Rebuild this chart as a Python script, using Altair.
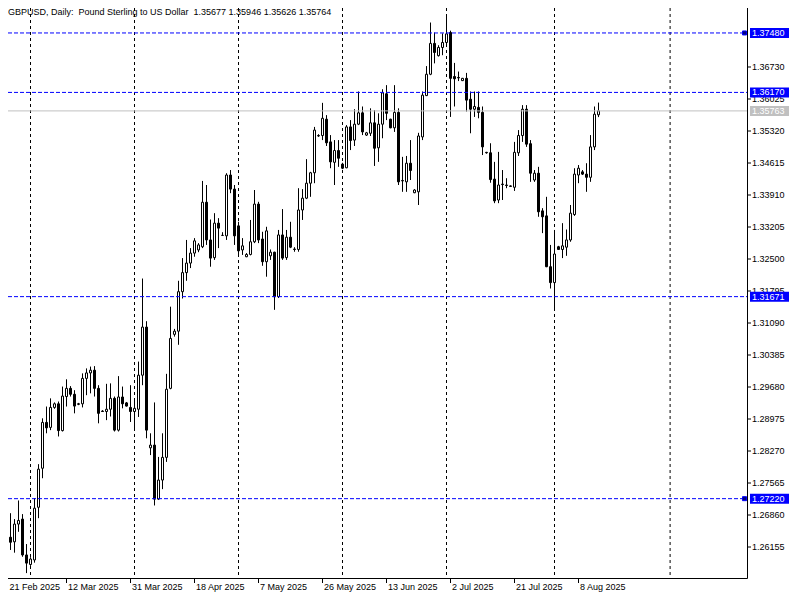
import altair as alt
import pandas as pd

# ---------------- data ----------------
symbol_text = "GBPUSD, Daily:\u00a0 Pound Sterling to US Dollar"

opens = [
    1.2664, 1.2626, 1.2637, 1.2627, 1.2666, 1.2677, 1.2598, 1.2577, 1.2587, 1.2703,
    1.2789, 1.2890, 1.2879, 1.2923, 1.2931, 1.2872, 1.2947, 1.2965, 1.2952, 1.2931,
    1.2931, 1.2987, 1.2999, 1.3005, 1.2965, 1.2915, 1.2914, 1.2919, 1.2943, 1.2873,
    1.2946, 1.2933, 1.2923, 1.2914, 1.2919, 1.2994, 1.3100, 1.2834, 1.2840, 1.2721,
    1.2763, 1.2813, 1.2965, 1.3084, 1.3091, 1.3178, 1.3220, 1.3241, 1.3263, 1.3270,
    1.3277, 1.3375, 1.3292, 1.3253, 1.3329, 1.3302, 1.3301, 1.3435, 1.3404, 1.3323,
    1.3270, 1.3255, 1.3260, 1.3288, 1.3371, 1.3294, 1.3244, 1.3257, 1.3265, 1.3167,
    1.3303, 1.3253, 1.3298, 1.3272, 1.3271, 1.3358, 1.3384, 1.3417, 1.3440, 1.3521,
    1.3522, 1.3558, 1.3508, 1.3463, 1.3489, 1.3459, 1.3451, 1.3541, 1.3512, 1.3547,
    1.3572, 1.3523, 1.3527, 1.3550, 1.3495, 1.3547, 1.3614, 1.3558, 1.3539, 1.3573,
    1.3422, 1.3420, 1.3461, 1.3396, 1.3398, 1.3519, 1.3610, 1.3657, 1.3725, 1.3698,
    1.3716, 1.3727, 1.3749, 1.3652, 1.3650, 1.3643, 1.3648, 1.3602, 1.3580, 1.3584,
    1.3573, 1.3485, 1.3484, 1.3426, 1.3380, 1.3415, 1.3413, 1.3411, 1.3408, 1.3484,
    1.3522, 1.3580, 1.3504, 1.3424, 1.3439, 1.3356, 1.3345, 1.3233, 1.3198, 1.3277,
    1.3271, 1.3276, 1.3292, 1.3348, 1.3435, 1.3442, 1.3437, 1.3430, 1.3497, 1.35677,
]
highs = [
    1.2675, 1.2642, 1.2690, 1.2677, 1.2718, 1.2688, 1.2622, 1.2593, 1.2723, 1.2798,
    1.2899, 1.2925, 1.2943, 1.2934, 1.2936, 1.2969, 1.2985, 1.2970, 1.2961, 1.2933,
    1.2998, 1.3009, 1.3013, 1.3014, 1.2972, 1.2917, 1.2975, 1.2976, 1.2947, 1.2992,
    1.2969, 1.2935, 1.2972, 1.2939, 1.3024, 1.3207, 1.3113, 1.2866, 1.2934, 1.2814,
    1.2866, 1.2997, 1.3145, 1.3096, 1.3202, 1.3252, 1.3292, 1.3274, 1.3296, 1.3285,
    1.3422, 1.3413, 1.3337, 1.3351, 1.3340, 1.3309, 1.3439, 1.3446, 1.3413, 1.3332,
    1.3296, 1.3263, 1.3336, 1.3402, 1.3376, 1.3310, 1.3321, 1.3271, 1.3266, 1.3314,
    1.3360, 1.3314, 1.3332, 1.3276, 1.3406, 1.3404, 1.3470, 1.3442, 1.3541, 1.3525,
    1.3594, 1.3567, 1.3523, 1.3512, 1.3512, 1.3462, 1.3545, 1.3556, 1.3580, 1.3619,
    1.3586, 1.3530, 1.3582, 1.3578, 1.3571, 1.3624, 1.3633, 1.3559, 1.3633, 1.3582,
    1.3475, 1.3477, 1.3512, 1.3404, 1.3528, 1.3619, 1.3675, 1.3771, 1.3749, 1.3721,
    1.3747, 1.3788, 1.3753, 1.3682, 1.3663, 1.3649, 1.3660, 1.3619, 1.3619, 1.3619,
    1.3586, 1.3486, 1.3505, 1.3464, 1.3486, 1.3446, 1.3428, 1.3412, 1.3508, 1.3534,
    1.3589, 1.3589, 1.3512, 1.3446, 1.3453, 1.3362, 1.3387, 1.3281, 1.3314, 1.3279,
    1.3329, 1.3315, 1.3369, 1.3450, 1.3457, 1.3446, 1.3461, 1.3523, 1.3586, 1.35946,
]
lows = [
    1.2620, 1.2624, 1.2609, 1.2603, 1.2649, 1.2594, 1.2558, 1.2574, 1.2581, 1.2679,
    1.2767, 1.2866, 1.2873, 1.2920, 1.2859, 1.2870, 1.2925, 1.2947, 1.2910, 1.2928,
    1.2923, 1.2950, 1.2954, 1.2947, 1.2888, 1.2913, 1.2895, 1.2903, 1.2870, 1.2870,
    1.2921, 1.2925, 1.2891, 1.2873, 1.2902, 1.2972, 1.2855, 1.2818, 1.2707, 1.2719,
    1.2743, 1.2803, 1.2963, 1.3079, 1.3061, 1.3163, 1.3202, 1.3230, 1.3255, 1.3265,
    1.3274, 1.3281, 1.3233, 1.3248, 1.3274, 1.3301, 1.3292, 1.3395, 1.3281, 1.3255,
    1.3259, 1.3254, 1.3258, 1.3285, 1.3285, 1.3235, 1.3211, 1.3248, 1.3138, 1.3164,
    1.3248, 1.3248, 1.3274, 1.3266, 1.3266, 1.3336, 1.3382, 1.3387, 1.3417, 1.3519,
    1.3512, 1.3499, 1.3450, 1.3413, 1.3453, 1.3448, 1.3450, 1.3490, 1.3499, 1.3545,
    1.3523, 1.3521, 1.3521, 1.3455, 1.3464, 1.3516, 1.3556, 1.3538, 1.3530, 1.3413,
    1.3398, 1.3398, 1.3424, 1.3395, 1.3369, 1.3512, 1.3609, 1.3655, 1.3681, 1.3696,
    1.3699, 1.3721, 1.3563, 1.3586, 1.3642, 1.3642, 1.3575, 1.3527, 1.3563, 1.3560,
    1.3479, 1.3482, 1.3418, 1.3373, 1.3373, 1.3380, 1.3406, 1.3409, 1.3400, 1.3477,
    1.3508, 1.3497, 1.3420, 1.3420, 1.3343, 1.3307, 1.3232, 1.3185, 1.3142, 1.3270,
    1.3252, 1.3257, 1.3288, 1.3345, 1.3417, 1.3435, 1.3398, 1.3420, 1.3490, 1.35626,
]
closes = [
    1.2629, 1.2638, 1.2626, 1.2666, 1.2674, 1.2598, 1.2580, 1.2589, 1.2701, 1.2787,
    1.2890, 1.2878, 1.2923, 1.2931, 1.2872, 1.2948, 1.2965, 1.2952, 1.2926, 1.2930,
    1.2987, 1.2999, 1.3005, 1.2965, 1.2910, 1.2914, 1.2919, 1.2943, 1.2873, 1.2946,
    1.2931, 1.2926, 1.2914, 1.2921, 1.2994, 1.3100, 1.2873, 1.2840, 1.2721, 1.2763,
    1.2813, 1.2963, 1.3075, 1.3091, 1.3178, 1.3220, 1.3241, 1.3263, 1.3290, 1.3281,
    1.3375, 1.3292, 1.3252, 1.3329, 1.3318, 1.3302, 1.3435, 1.3404, 1.3301, 1.3268,
    1.3279, 1.3260, 1.3288, 1.3371, 1.3292, 1.3244, 1.3312, 1.3265, 1.3167, 1.3303,
    1.3252, 1.3298, 1.3276, 1.3271, 1.3358, 1.3384, 1.3417, 1.3440, 1.3534, 1.3522,
    1.3560, 1.3506, 1.3464, 1.3489, 1.3472, 1.3450, 1.3541, 1.3511, 1.3547, 1.3572,
    1.3530, 1.3528, 1.3550, 1.3494, 1.3547, 1.3616, 1.3571, 1.3539, 1.3573, 1.3420,
    1.3423, 1.3461, 1.3445, 1.3402, 1.3521, 1.3611, 1.3657, 1.3725, 1.3705, 1.3716,
    1.3727, 1.3746, 1.3648, 1.3647, 1.3649, 1.3648, 1.3600, 1.3580, 1.3586, 1.3573,
    1.3497, 1.3484, 1.3425, 1.3378, 1.3413, 1.3414, 1.3412, 1.3410, 1.3485, 1.3522,
    1.3580, 1.3503, 1.3439, 1.3439, 1.3354, 1.3343, 1.3233, 1.3198, 1.3261, 1.3271,
    1.3279, 1.3292, 1.3351, 1.3437, 1.3450, 1.3437, 1.3430, 1.3497, 1.3569, 1.35764,
]

date_ticks = [0, 16, 32, 48, 64, 80, 96, 112, 128, 144]
date_labels = ["21 Feb 2025", "12 Mar 2025", "31 Mar 2025", "18 Apr 2025", "7 May 2025",
               "26 May 2025", "13 Jun 2025", "2 Jul 2025", "21 Jul 2025", "8 Aug 2025"]
month_grid = [7, 33, 59, 85, 111, 138, 166.9]
price_ticks = [1.36730, 1.36025, 1.35320, 1.34615, 1.33910, 1.33205, 1.32500, 1.31795,
               1.31090, 1.30385, 1.29680, 1.28975, 1.28270, 1.27565, 1.26860, 1.26155]
level_prices = [1.37480, 1.36170, 1.31671, 1.27220]
anchored_levels = [1.37480, 1.27220]
bid_price = 1.35763

# ---------------- build ----------------
W, H = 739, 570
FONT = "Liberation Sans"
FS = 9

candles = pd.DataFrame({
    "i": list(range(len(opens))),
    "open": opens, "high": highs, "low": lows, "close": closes,
})

X0 = 1.375
xscale = alt.Scale(domain=[X0, 186.125], nice=False, zero=False, padding=0)
yscale = alt.Scale(domain=[1.254722, 1.380298], nice=False, zero=False, padding=0)

def xq(field):
    return alt.X(field, type="quantitative", scale=xscale, axis=None)

def yq(field):
    return alt.Y(field, type="quantitative", scale=yscale, axis=None)

# vertical monthly grid
grid = alt.Chart(pd.DataFrame({"g": month_grid})).mark_rule(
    color="black", strokeDash=[3, 3], strokeWidth=1, clip=True
).encode(x=xq("g"), y=alt.value(0), y2=alt.value(H))

# candles
wicks = alt.Chart(candles).mark_rule(color="black", strokeWidth=1, clip=True).encode(
    x=xq("i"), y=yq("low"), y2="high")
bodies = alt.Chart(candles).mark_bar(size=2, stroke="black", strokeWidth=1, clip=True).encode(
    x=xq("i"), y=yq("open"), y2="close",
    fill=alt.condition("datum.close >= datum.open", alt.value("white"), alt.value("black")),
)

# bid line and level lines
bid_line = alt.Chart(pd.DataFrame({"price": [bid_price]})).mark_rule(
    color="#c0c0c0", strokeWidth=1).encode(y=yq("price"), x=alt.value(0), x2=alt.value(W))
level_lines = alt.Chart(pd.DataFrame({"price": level_prices})).mark_rule(
    color="#0000ff", strokeWidth=1, strokeDash=[4, 2]).encode(
    y=yq("price"), x=alt.value(0), x2=alt.value(W))
anchors = alt.Chart(pd.DataFrame({"price": anchored_levels})).mark_square(
    size=16, fill="#000080", stroke="#0000ff", strokeWidth=1, opacity=1
).encode(y=yq("price"), x=alt.value(736.5))

# right price axis (drawn with the y scale)
ptick_df = pd.DataFrame({"price": price_ticks})
axis_lines = alt.Chart(pd.DataFrame({"a": [0]})).mark_rule(color="black", strokeWidth=1).encode(
    x=alt.value(W + 0.5), y=alt.value(0), y2=alt.value(H + 0.5))
bottom_line = alt.Chart(pd.DataFrame({"a": [0]})).mark_rule(color="black", strokeWidth=1).encode(
    x=alt.value(0), x2=alt.value(W + 0.5), y=alt.value(H + 0.5))
ptick_marks = alt.Chart(ptick_df).mark_rule(color="black", strokeWidth=1).encode(
    y=yq("price"), x=alt.value(W), x2=alt.value(W + 4))
ptick_text = alt.Chart(ptick_df).mark_text(
    align="left", baseline="middle", font=FONT, fontSize=FS, color="black"
).encode(y=yq("price"), x=alt.value(W + 5), text=alt.Text("price:Q", format=".5f"))

# bottom date axis (drawn with the x scale)
dates_df = pd.DataFrame({"i": date_ticks, "label": date_labels})
dtick_marks = alt.Chart(dates_df).mark_rule(color="black", strokeWidth=1, clip=False).transform_filter(
    f"datum.i >= {X0}").encode(x=xq("i"), y=alt.value(H), y2=alt.value(H + 5))
dtick_text = alt.Chart(dates_df).transform_calculate(
    xl=f"max(datum.i, {X0})"
).mark_text(align="left", baseline="top", font=FONT, fontSize=FS, color="black", dx=1.5).encode(
    x=xq("xl:Q"), y=alt.value(H + 5), text="label:N")

# price tags on the right axis
tags_df = pd.DataFrame({
    "price": level_prices + [bid_price],
    "kind": ["level"] * len(level_prices) + ["bid"],
})
tag_boxes = alt.Chart(tags_df).mark_rule(strokeWidth=10, strokeCap="butt").encode(
    y=yq("price"), x=alt.value(742), x2=alt.value(781),
    color=alt.Color("kind:N", scale=alt.Scale(domain=["level", "bid"], range=["#0000ff", "#c0c0c0"]), legend=None),
)
tag_text = alt.Chart(tags_df).mark_text(
    align="left", baseline="middle", color="white", font=FONT, fontSize=FS
).encode(y=yq("price"), x=alt.value(W + 5), text=alt.Text("price:Q", format=".5f"))

title_str = (symbol_text + "\u00a0 " + " ".join(f"{v:.5f}" for v in
             [opens[-1], highs[-1], lows[-1], closes[-1]]))
title = alt.Chart(pd.DataFrame({"t": [title_str]})).mark_text(
    align="left", baseline="top", font=FONT, fontSize=FS, color="black"
).encode(text="t:N", x=alt.value(0), y=alt.value(0))

chart = alt.layer(
    grid, wicks, bodies, bid_line, level_lines, anchors,
    axis_lines, bottom_line, ptick_marks, ptick_text, dtick_marks, dtick_text,
    tag_boxes, tag_text, title
).properties(
    width=W, height=H,
    autosize=alt.AutoSizeParams(type="none"),
    padding={"left": 0, "top": 0, "right": 45, "bottom": 14},
    background="white",
).configure_view(strokeWidth=0)

chart.save("out.html", embed_options={"renderer": "svg", "actions": False})
